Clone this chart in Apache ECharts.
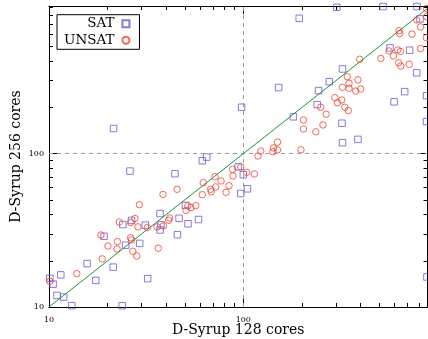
<!DOCTYPE html>
<html>
<head>
<meta charset="utf-8">
<script src="https://cdn.jsdelivr.net/npm/echarts@6/dist/echarts.min.js"></script>
<style>
  html, body { margin: 0; padding: 0; background: #fff; }
  #chart { width: 428px; height: 339px; }
</style>
</head>
<body>
<div id="chart"></div>
<script>
// Run times (s) of each instance: [128 cores, 256 cores]
const satPoints = [
  [303, 902], [524, 912], [783, 912], [194, 764], [811, 757], [152, 270], [98, 201],
  [569, 490], [718, 473], [780, 337], [324, 357], [277, 295], [244, 258], [677, 254],
  [597, 218], [240, 209], [181, 174], [322, 158], [324, 118], [389, 124], [877, 239],
  [877, 162], [21.5, 146], [26.1, 77], [61.5, 90], [64.8, 95], [44.5, 74], [94, 82],
  [100, 73], [97, 55], [105, 59], [50.4, 46], [37.3, 40.7], [46.7, 37.9], [58.8, 37.2],
  [51.9, 34.9], [45.8, 29.6], [31.3, 34.2], [26.6, 36.7], [24.0, 34.5], [37.7, 34.3],
  [37.3, 31.8], [19.2, 28.9], [24.8, 25.3], [29.3, 26.0], [15.7, 19.2], [21.4, 18.2],
  [17.4, 14.9], [32.2, 15.3], [10.1, 15.4], [10.5, 14.1], [11.5, 16.2], [11.0, 11.9],
  [11.9, 11.6], [13.1, 10.2], [23.8, 10.2], [881, 15.7]
];

const unsatPoints = [
  [877, 885], [780, 745], [817, 671], [879, 783], [633, 634], [638, 608], [738, 602],
  [875, 571], [817, 485], [562, 468], [623, 475], [644, 464], [593, 434], [510, 418],
  [630, 392], [646, 373], [714, 383], [397, 413], [343, 318], [389, 303], [350, 288],
  [324, 271], [350, 267], [402, 264], [379, 256], [296, 232], [321, 224], [305, 215],
  [250, 201], [333, 201], [347, 191], [267, 181], [204, 166], [204, 145], [257, 154],
  [236, 139], [150, 119], [143, 109], [150, 106], [142, 103], [123, 104], [119, 96.6],
  [198, 106], [97, 82], [88, 79], [104, 75.6], [114, 73.8], [88.5, 71.6], [71.5, 70.8],
  [76.8, 66.4], [62.2, 64.7], [72.1, 60.7], [84.4, 61.8], [67.9, 58.6], [68.4, 56.5],
  [81.5, 56.0], [61.5, 54.0], [45.6, 58.6], [38.6, 54.2], [51.8, 45.8], [56.9, 45.8],
  [53.8, 44.5], [50.7, 42.7], [41.8, 38.1], [41.3, 36.8], [29.2, 46.5], [23.0, 35.8],
  [27.7, 37.8], [26.3, 35.6], [28.7, 33.3], [32.1, 33.0], [36.0, 33.3], [38.8, 33.8],
  [18.5, 29.5], [20.1, 25.0], [22.5, 26.7], [22.4, 23.9], [26.3, 28.3], [26.6, 27.4],
  [27.0, 23.1], [28.3, 21.5], [36.5, 24.2], [18.8, 20.6], [13.9, 16.5], [10.1, 14.7]
];

const seriesNames = ['SAT', 'UNSAT'];
const xName = 'D-Syrup 128 cores';
const yName = 'D-Syrup 256 cores';

const axisMin = 10;
const xMax = 887;
const yMax = 919;
const majorTicks = [10, 100];
const tickLabels = ['10', '100'];
const minorTicks = [20, 30, 40, 50, 60, 70, 80, 90, 200, 300, 400, 500, 600, 700, 800, 900];

const FONT = 'DejaVu Serif';
const satColor = '#6a5acd';
const unsatColor = '#f0442f';

function logAxis(position, max, ticks, tickLen, opts) {
  const o = opts || {};
  return Object.assign({
    type: 'log',
    logBase: 10,
    position: position,
    min: axisMin,
    max: max,
    axisLine: { show: o.line !== false, onZero: false, lineStyle: { color: '#000', width: 1 } },
    axisTick: {
      show: true, inside: true, length: tickLen,
      customValues: ticks.filter(v => v <= max),
      lineStyle: { color: '#000', width: 1 }
    },
    axisLabel: o.labels ? {
      show: true,
      customValues: majorTicks,
      formatter: v => tickLabels[majorTicks.indexOf(Math.round(v))] || '',
      fontFamily: FONT, fontSize: 8, color: '#000',
      margin: o.labelMargin
    } : { show: false },
    splitLine: { show: false },
    minorTick: { show: false },
    silent: true
  }, o.extra || {});
}

const chart = echarts.init(document.getElementById('chart'), null, { renderer: 'canvas' });

chart.setOption({
  animation: false,
  backgroundColor: '#fff',
  grid: { left: 49, right: 0.5, top: 6, bottom: 32, containLabel: false, outerBoundsMode: 'none' },
  xAxis: [
    logAxis('bottom', xMax, majorTicks, 8, {
      labels: true, labelMargin: 9,
      extra: {
        name: xName, nameLocation: 'middle', nameGap: 16, nameMoveOverlap: false,
        nameTextStyle: { fontFamily: FONT, fontSize: 14, color: '#000' }
      }
    }),
    logAxis('bottom', xMax, minorTicks, 4, { line: false }),
    logAxis('top', xMax, majorTicks, 8, {}),
    logAxis('top', xMax, minorTicks, 4, { line: false })
  ],
  yAxis: [
    logAxis('left', yMax, majorTicks, 8, {
      labels: true, labelMargin: 5,
      extra: {
        name: yName, nameLocation: 'middle', nameGap: 26, nameRotate: 90, nameMoveOverlap: false,
        nameTextStyle: { fontFamily: FONT, fontSize: 14, color: '#000' }
      }
    }),
    logAxis('left', yMax, minorTicks, 4, { line: false }),
    logAxis('right', yMax, majorTicks, 8, {}),
    logAxis('right', yMax, minorTicks, 4, { line: false })
  ],
  legend: {
    data: seriesNames,
    orient: 'vertical',
    align: 'right',
    left: 57,
    top: 14.7,
    padding: [2, 9, 2, 7],
    itemGap: 2.6,
    itemWidth: 7,
    itemHeight: 7,
    backgroundColor: '#fff',
    borderColor: '#000',
    borderWidth: 1,
    borderRadius: 0,
    selectedMode: false,
    textStyle: { fontFamily: FONT, fontSize: 13.5, color: '#000', lineHeight: 14, padding: [0, 3, 0, 0] }
  },
  series: [
    {
      name: 'diagonal',
      type: 'line',
      xAxisIndex: 0, yAxisIndex: 0,
      data: [[axisMin, axisMin], [xMax, xMax]],
      symbol: 'none',
      silent: true,
      z: 1,
      lineStyle: { color: '#129a34', width: 1 },
      markLine: {
        silent: true,
        symbol: 'none',
        label: { show: false },
        lineStyle: { color: '#999', type: [4, 4], width: 1 },
        data: [{ xAxis: 100 }, { yAxis: 100 }]
      }
    },
    {
      name: seriesNames[0],
      type: 'scatter',
      xAxisIndex: 0, yAxisIndex: 0,
      data: satPoints,
      symbol: 'rect',
      symbolSize: 6.5,
      z: 3,
      itemStyle: { color: 'rgba(0,0,0,0)', borderColor: satColor, borderWidth: 1 }
    },
    {
      name: seriesNames[1],
      type: 'scatter',
      xAxisIndex: 0, yAxisIndex: 0,
      data: unsatPoints,
      symbol: 'circle',
      symbolSize: 6.5,
      z: 3,
      itemStyle: { color: 'rgba(0,0,0,0)', borderColor: unsatColor, borderWidth: 1 }
    }
  ]
});
</script>
</body>
</html>
